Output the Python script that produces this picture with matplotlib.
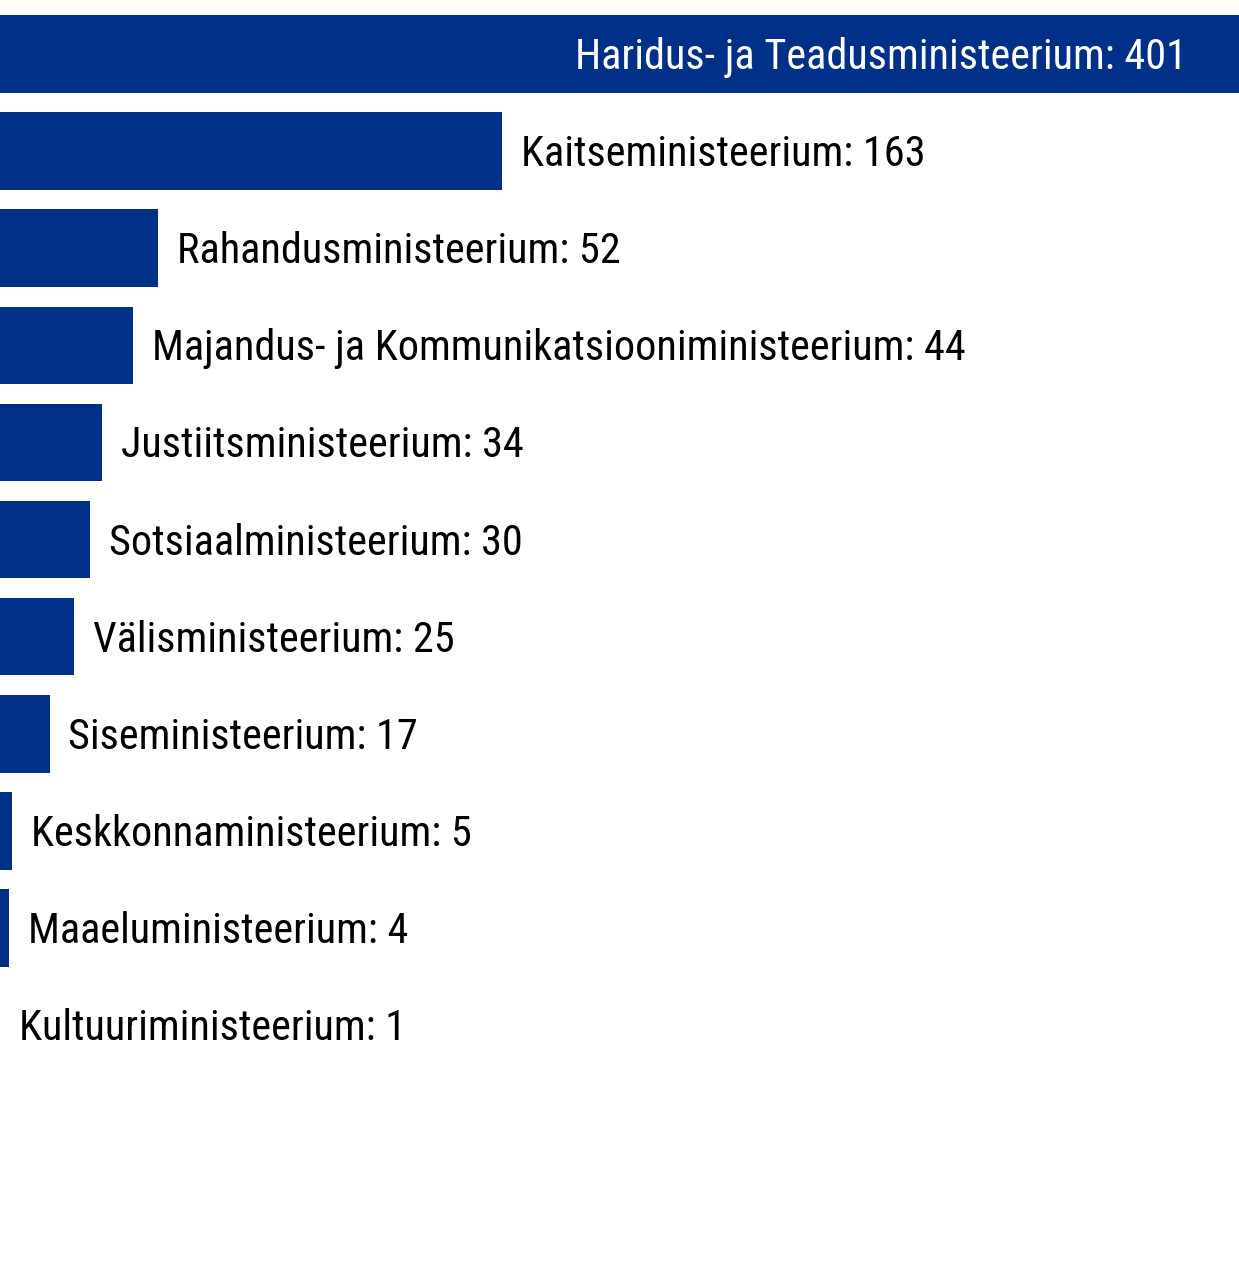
import matplotlib.pyplot as plt

ministries = ['Haridus- ja Teadusministeerium', 'Kaitseministeerium', 'Rahandusministeerium',
              'Majandus- ja Kommunikatsiooniministeerium', 'Justiitsministeerium',
              'Sotsiaalministeerium', 'Välisministeerium', 'Siseministeerium',
              'Keskkonnaministeerium', 'Maaeluministeerium', 'Kultuuriministeerium']
counts = [401, 163, 52, 44, 34, 30, 25, 17, 5, 4, 1]

plt.rcParams['font.family'] = ['Roboto Condensed', 'Roboto', 'DejaVu Sans']

fig = plt.figure(figsize=(12.39, 12.63), dpi=100)
ax = fig.add_axes([0, 0.150, 1, 0.8456])
ypos = list(range(len(ministries)))
ax.barh(ypos, counts, height=0.8, color='#003087')
ax.set_xlim(1, 401)
ax.set_ylim(len(ministries) - 0.5, -0.5)
ax.axis('off')

for y, name, n in zip(ypos, ministries, counts):
    label = f'{name}: {n}'
    if n == max(counts):
        # biggest bar gets its label inside, in white
        ax.annotate(label, (n, y), xytext=(-37.5, -2.5), textcoords='offset points',
                    ha='right', va='center', color='white', fontsize=30.4)
    else:
        ax.annotate(label, (max(n, 1), y), xytext=(13.5, -2.5), textcoords='offset points',
                    ha='left', va='center', color='black', fontsize=30.4)

fig.savefig('out.png', dpi=100)
